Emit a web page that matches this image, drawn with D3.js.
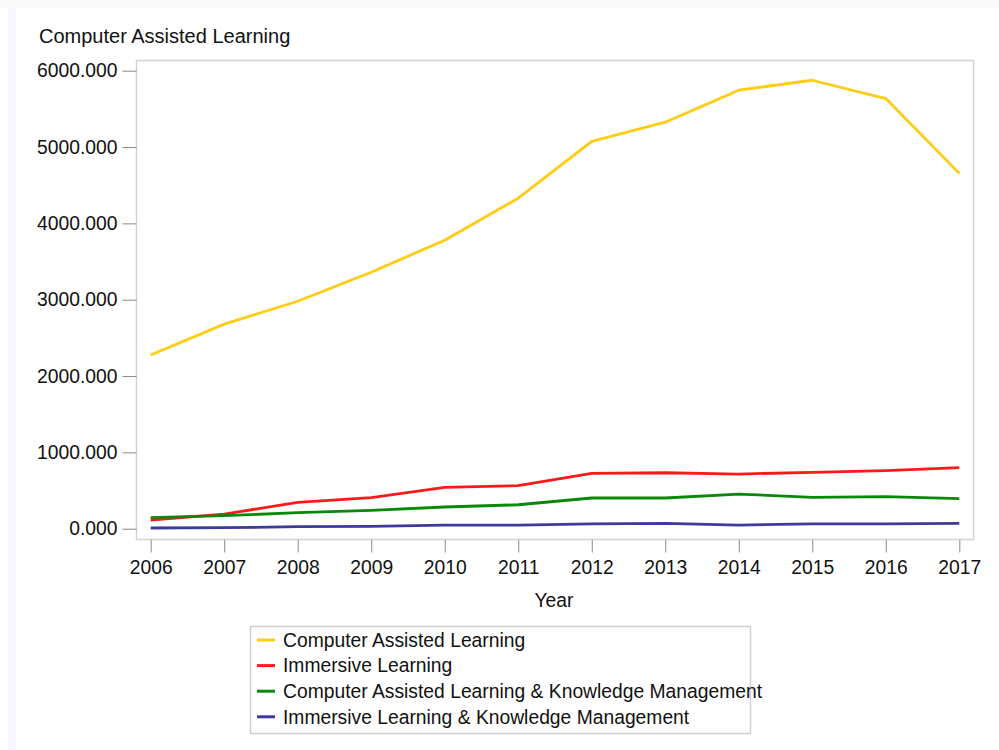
<!DOCTYPE html>
<html>
<head>
<meta charset="utf-8">
<script src="https://cdn.jsdelivr.net/npm/d3@7"></script>
<style>
  body { margin: 0; background: #fff; }
  svg { display: block; font-family: "Liberation Sans", Arial, sans-serif; }
</style>
</head>
<body>
<div id="chart"></div>
<script>
const years = [2006, 2007, 2008, 2009, 2010, 2011, 2012, 2013, 2014, 2015, 2016, 2017]
const seriesNames = [
  "Computer Assisted Learning",
  "Immersive Learning",
  "Computer Assisted Learning & Knowledge Management",
  "Immersive Learning & Knowledge Management"
]
const computerAssisted = [2275, 2680, 2980, 3360, 3780, 4330, 5075, 5325, 5745, 5875, 5635, 4655]
const immersive = [114, 192, 345, 406, 542, 563, 725, 733, 716, 738, 760, 799]
const computerAssistedKM = [144, 170, 210, 241, 284, 314, 402, 402, 454, 411, 419, 393]
const immersiveKM = [9, 13, 26, 31, 48, 48, 62, 71, 48, 62, 62, 71]
const yTicks = [0, 1000, 2000, 3000, 4000, 5000, 6000]
const colours = ["#ffcc14", "#ff1a1a", "#0a880a", "#3b3b9e"]

const width = 999
const height = 750
const fontSize = "19.3px"

const allSeries = [computerAssisted, immersive, computerAssistedKM, immersiveKM]

const svg = d3.select("#chart")
  .append("svg")
    .attr("width", width)
    .attr("height", height)

// faint outer frame from the original screenshot
svg.append("rect").attr("x", 0).attr("y", 0).attr("width", width).attr("height", 8).attr("fill", "#fafafa")
svg.append("rect").attr("x", 8).attr("y", 8).attr("width", 8).attr("height", height - 8).attr("fill", "#f7f8fd")

// plot frame
const frame = { left: 136.5, top: 60.5, right: 973.5, bottom: 539.5 }

const x = d3.scalePoint()
    .domain(years)
    .range([150.7, 959.3])

const y = d3.scaleLinear()
    .domain([0, 6000])
    .range([528.7, 70.7])

svg.append("rect")
    .attr("x", frame.left)
    .attr("y", frame.top)
    .attr("width", frame.right - frame.left)
    .attr("height", frame.bottom - frame.top)
    .attr("fill", "#fff")
    .attr("stroke", "#d4d4d4")
    .attr("stroke-width", 1.5)

// y axis
const yAxis = svg.append("g")
    .attr("transform", `translate(${frame.left},0)`)
    .call(d3.axisLeft(y).tickValues(yTicks).tickFormat(d3.format(".3f")).tickSize(14).tickPadding(5))
yAxis.select(".domain").remove()
yAxis.selectAll(".tick line").attr("stroke", "#8c8c8c")
yAxis.selectAll(".tick text")
    .attr("fill", "#111")
    .style("font-size", fontSize)

// x axis
const xAxis = svg.append("g")
    .attr("transform", `translate(0,${frame.bottom})`)
    .call(d3.axisBottom(x).tickSize(13).tickPadding(8))
xAxis.select(".domain").remove()
xAxis.selectAll(".tick line").attr("stroke", "#8c8c8c")
xAxis.selectAll(".tick text")
    .attr("fill", "#111")
    .style("font-size", fontSize)

svg.append("text")
    .attr("x", 554)
    .attr("y", 607)
    .attr("text-anchor", "middle")
    .style("font-size", fontSize)
    .attr("fill", "#111")
    .text("Year")

svg.append("text")
    .attr("x", 39)
    .attr("y", 43)
    .style("font-size", "20px")
    .attr("fill", "#111")
    .text("Computer Assisted Learning")

// lines
const line = d3.line()
    .x((d, i) => x(years[i]))
    .y(d => y(d))

svg.append("g")
  .selectAll("path")
  .data(allSeries)
  .join("path")
    .attr("d", line)
    .attr("fill", "none")
    .attr("stroke", (d, i) => colours[i])
    .attr("stroke-width", 2.8)
    .attr("stroke-linejoin", "round")

// legend
const legend = svg.append("g")

legend.append("rect")
    .attr("x", 250.5)
    .attr("y", 626.5)
    .attr("width", 500)
    .attr("height", 107)
    .attr("fill", "#fff")
    .attr("stroke", "#d0d0d0")
    .attr("stroke-width", 1.5)

const item = legend.selectAll("g.item")
  .data(seriesNames)
  .join("g")
    .attr("class", "item")
    .attr("transform", (d, i) => `translate(0,${640 + i * 25.6})`)

item.append("line")
    .attr("x1", 257)
    .attr("x2", 275)
    .attr("stroke", (d, i) => colours[i])
    .attr("stroke-width", 3)

item.append("text")
    .attr("x", 283)
    .attr("dy", "0.35em")
    .style("font-size", fontSize)
    .attr("fill", "#111")
    .text(d => d)
</script>
</body>
</html>
